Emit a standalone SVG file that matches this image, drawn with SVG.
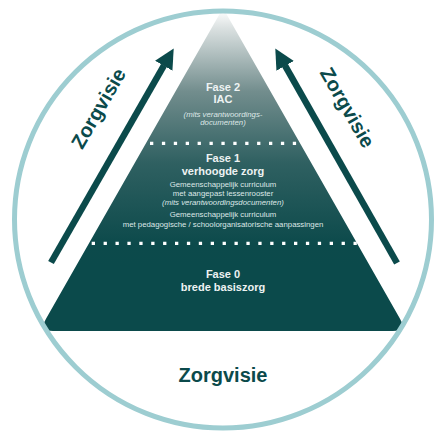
<svg xmlns="http://www.w3.org/2000/svg" width="434" height="432" viewBox="0 0 434 432">
  <defs>
    <linearGradient id="pyrGrad" gradientUnits="userSpaceOnUse" x1="0" y1="10" x2="0" y2="265">
      <stop offset="0" stop-color="#ffffff"/>
      <stop offset="0.07" stop-color="#dbe1e1"/>
      <stop offset="0.32" stop-color="#728d8d"/>
      <stop offset="0.6" stop-color="#2f6061"/>
      <stop offset="0.92" stop-color="#0c4a4b"/>
      <stop offset="1" stop-color="#0b4a4b"/>
    </linearGradient>
    <marker id="ah" markerUnits="userSpaceOnUse" viewBox="0 0 20 20" markerWidth="20" markerHeight="20" refX="0.5" refY="10" orient="auto">
      <path d="M0,0 L20,10 L0,20 Z" fill="#0b4a4b"/>
    </marker>
  </defs>
  <style>
    .hdr { font-family: "Liberation Sans", Arial, sans-serif; font-weight: bold; font-size: 11px; fill: #eef3f3; text-anchor: middle; }
    .sm { font-family: "Liberation Sans", Arial, sans-serif; font-size: 7.8px; fill: #dde7e7; text-anchor: middle; }
    .it { font-style: italic; }
    .big { font-family: "Liberation Sans", Arial, sans-serif; font-weight: bold; font-size: 20px; fill: #0b4a4b; text-anchor: middle; }
    .dots { stroke: #ffffff; stroke-width: 3.3; stroke-dasharray: 3.3 8.6; fill: none; }
    .arrow { stroke: #0b4a4b; stroke-width: 6.5; fill: none; marker-end: url(#ah); }
  </style>
  <rect width="434" height="432" fill="#ffffff"/>
  <g id="pyramid">
    <path d="M223,8 L46,318.8 Q39,331 53,331 L393,331 Q407,331 400,318.8 Z" fill="url(#pyrGrad)"/>
    <line class="dots" x1="150" y1="143.3" x2="297.3" y2="143.3"/>
    <line class="dots" x1="91.7" y1="243.3" x2="358.5" y2="243.3"/>
  </g>
  <g id="ring">
    <circle cx="223" cy="219.5" r="208.5" fill="none" stroke="#9dcdd1" stroke-width="5"/>
  </g>
  <g id="fase2">
    <text class="hdr" x="223" y="91">Fase 2</text>
    <text class="hdr" x="223" y="103.3">IAC</text>
    <text class="sm it" x="223" y="116.5">(mits verantwoordings-</text>
    <text class="sm it" x="223" y="125">documenten)</text>
  </g>
  <g id="fase1">
    <text class="hdr" x="223" y="162">Fase 1</text>
    <text class="hdr" x="223" y="174.5">verhoogde zorg</text>
    <text class="sm" x="223" y="186.5">Gemeenschappelijk curriculum</text>
    <text class="sm" x="223" y="195.5">met aangepast lessenrooster</text>
    <text class="sm it" x="223" y="204.5">(mits verantwoordingsdocumenten)</text>
    <text class="sm" x="223" y="216.5">Gemeenschappelijk curriculum</text>
    <text class="sm" x="223" y="226.5">met pedagogische / schoolorganisatorische aanpassingen</text>
  </g>
  <g id="fase0">
    <text class="hdr" x="223" y="278.3">Fase 0</text>
    <text class="hdr" x="223" y="291">brede basiszorg</text>
  </g>
  <g id="connectors">
    <line class="arrow" x1="51" y1="262.5" x2="164" y2="65.3"/>
    <line class="arrow" x1="397" y1="263" x2="284.9" y2="65.4"/>
  </g>
  <g id="labels">
    <text class="big" transform="translate(98.3,108.3) rotate(-60)" y="7">Zorgvisie</text>
    <text class="big" transform="translate(347.5,107.5) rotate(60)" y="7">Zorgvisie</text>
    <text class="big" x="223" y="381.7">Zorgvisie</text>
  </g>
</svg>
